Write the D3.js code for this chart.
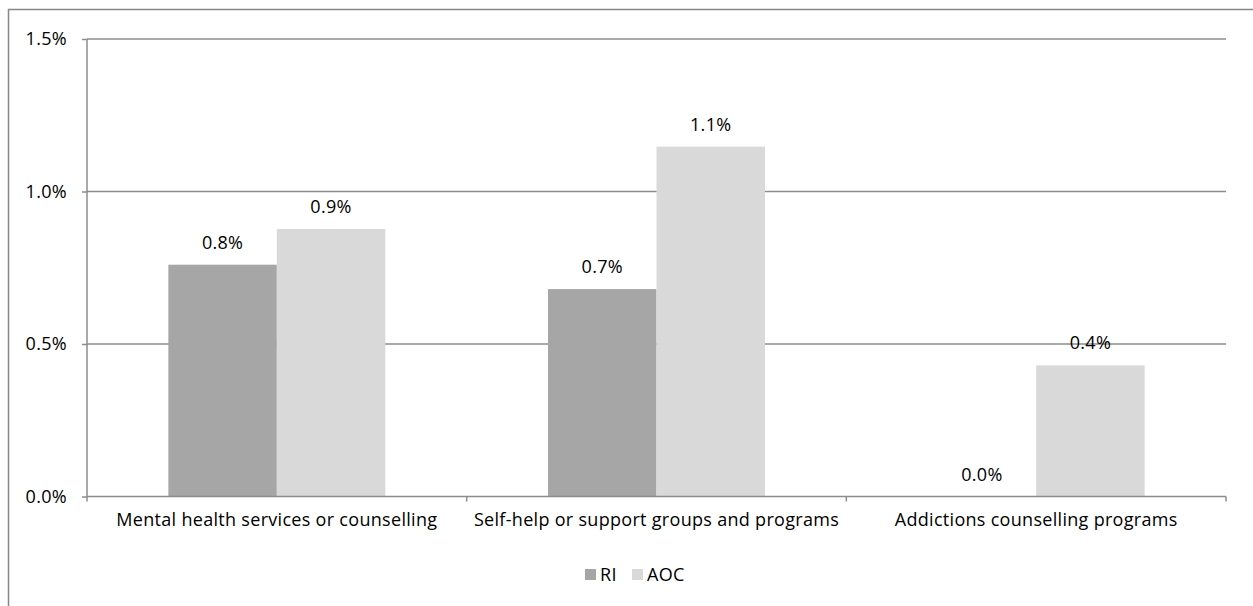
<!DOCTYPE html>
<html><head><meta charset="utf-8">
<script src="https://cdn.jsdelivr.net/npm/d3@7"></script>
<style>body{margin:0;background:#fff}svg{display:block}text{letter-spacing:0.3px}</style>
</head><body>
<svg id="c" width="1253" height="606"></svg>
<script>
const categories = ["Mental health services or counselling","Self-help or support groups and programs","Addictions counselling programs"];
const series = ["RI","AOC"];
const riValues = [0.0076, 0.0068, 0.0000];
const aocValues = [0.00877, 0.01147, 0.0043];
const yTicks = [0, 0.005, 0.01, 0.015];
const colors = {RI:"#a6a6a6", AOC:"#d9d9d9"};
const font = "'Open Sans', sans-serif";
const fs = 18;

const svg = d3.select("#c");
svg.append("rect").attr("x",8.5).attr("y",9.5).attr("width",1260).attr("height",620)
  .attr("fill","none").attr("stroke","#868686").attr("stroke-width",1.5);

const m = {l:87, r:1226, t:39, b:496.5};
const x0 = d3.scaleBand().domain(categories).range([m.l,m.r]).paddingInner(0).paddingOuter(0);
const x1 = d3.scaleBand().domain(series).range([0,x0.bandwidth()]).paddingInner(0).paddingOuter(0.75);
const y = d3.scaleLinear().domain([0,0.015]).range([m.b,m.t]);

// gridlines
svg.append("g").selectAll("line").data(yTicks.slice(1)).join("line")
  .attr("x1",m.l).attr("x2",m.r).attr("y1",d=>y(d)).attr("y2",d=>y(d))
  .attr("stroke","#8c8c8c").attr("stroke-width",1.5);

// y axis
const ya = svg.append("g").attr("transform",`translate(${m.l},0)`)
  .call(d3.axisLeft(y).tickValues(yTicks).tickFormat(d3.format(".1%")).tickSize(5).tickPadding(15));
ya.select(".domain").attr("stroke","#8c8c8c").attr("stroke-width",1.5).attr("d",`M0,${m.t}V${m.b}`);
ya.selectAll(".tick line").attr("stroke","#8c8c8c").attr("stroke-width",1.5);
ya.selectAll("text").attr("font-family",font).attr("font-size",fs).attr("fill","#000");

// bars
const data = categories.map((c,i)=>({c, vals:[{s:"RI",v:riValues[i]},{s:"AOC",v:aocValues[i]}]}));
const g = svg.append("g").selectAll("g").data(data).join("g")
  .attr("transform",d=>`translate(${x0(d.c)},0)`);
g.selectAll("rect").data(d=>d.vals).join("rect")
  .attr("x",d=>x1(d.s)).attr("width",x1.bandwidth())
  .attr("y",d=>y(d.v)).attr("height",d=>m.b-y(d.v))
  .attr("fill",d=>colors[d.s]);
g.selectAll("text").data(d=>d.vals).join("text")
  .attr("x",d=>x1(d.s)+x1.bandwidth()/2).attr("y",d=>y(d.v)-16)
  .attr("text-anchor","middle").attr("font-family",font).attr("font-size",fs).attr("fill","#000")
  .text(d=>d3.format(".1%")(d.v));

// x axis
const xa = svg.append("g").attr("transform",`translate(0,${m.b})`)
  .call(d3.axisBottom(x0).tickSize(0).tickPadding(17));
xa.select(".domain").attr("stroke","#8c8c8c").attr("stroke-width",1.5).attr("d",`M${m.l},0H${m.r}`);
xa.selectAll("text").attr("font-family",font).attr("font-size",fs).attr("fill","#000");
const bounds = [m.l, ...categories.map(c=>x0(c)+x0.bandwidth())];
xa.selectAll(".bt").data(bounds).join("line").attr("class","bt")
  .attr("x1",d=>d).attr("x2",d=>d).attr("y1",0).attr("y2",5)
  .attr("stroke","#8c8c8c").attr("stroke-width",1.5);

// legend
const leg = svg.append("g").attr("transform","translate(585,581)");
const items = [{s:"RI",x:0},{s:"AOC",x:47}];
const li = leg.selectAll("g").data(items).join("g").attr("transform",d=>`translate(${d.x},0)`);
li.append("rect").attr("x",0).attr("y",-12).attr("width",11).attr("height",11).attr("fill",d=>colors[d.s]);
li.append("text").attr("x",15).attr("y",0)
  .attr("font-family",font).attr("font-size",fs).attr("fill","#000").text(d=>d.s);
</script>
</body></html>
